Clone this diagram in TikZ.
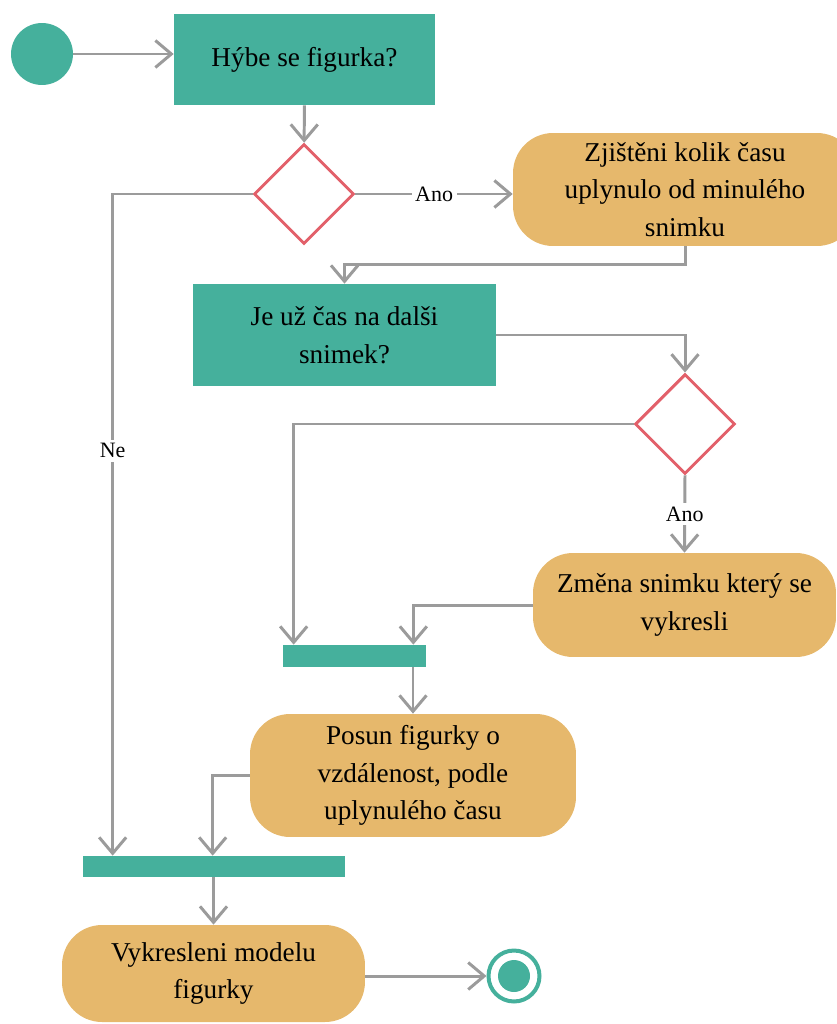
\documentclass[tikz,border=0pt]{standalone}
\usepackage{fontspec}
\setmainfont{Liberation Serif}
\newfontfamily\flowfont{Liberation Serif}
\usetikzlibrary{shapes.geometric,arrows.meta,calc}
\definecolor{fteal}{RGB}{69,176,156}
\definecolor{forange}{RGB}{230,184,108}
\definecolor{fred}{RGB}{226,96,106}
\definecolor{fgray}{RGB}{155,155,155}

\begin{document}
\begin{tikzpicture}[x=0.02cm,y=-0.02cm,
    font=\flowfont\fontsize{15.5}{21.5}\selectfont,
    flow/.style={draw=fgray, line width=1.7pt, -{Straight Barb[length=3.2mm,width=5.4mm]}},
    check/.style={rectangle, fill=fteal, inner sep=2pt, align=center},
    activity/.style={rectangle, rounded corners=0.8cm, fill=forange, align=center},
    decision/.style={diamond, draw=fred, line width=1.7pt, fill=white, inner sep=0pt, minimum width=2cm, minimum height=2cm},
    syncbar/.style={rectangle, fill=fteal, inner sep=0pt},
    guard/.style={fill=white, inner sep=2pt, font=\flowfont\fontsize{12.5}{15}\selectfont},
]
    \useasboundingbox (0,0) rectangle (836,1024);

    \node[circle, fill=fteal, minimum size=1.24cm, inner sep=0pt] (start) at (42,54) {};
    \node[check, minimum width=5.22cm, minimum height=1.82cm] (figurka) at (304.5,59.5) {Hýbe se figurka?};
    \node[decision] (moves) at (304,194) {};
    \node[activity, minimum width=6.88cm, minimum height=2.26cm] (elapsed) at (685,189.5) {Zjištěni kolik času\\uplynulo od minulého\\snimku};
    \node[check, minimum width=6.06cm, minimum height=2.04cm] (frametime) at (344.5,335) {Je už čas na dalši\\snimek?};
    \node[decision] (due) at (685,424) {};
    \node[activity, minimum width=6.06cm, minimum height=2.08cm] (swap) at (684.5,605) {Změna snimku který se\\vykresli};
    \node[syncbar, minimum width=2.86cm, minimum height=0.44cm] (joinA) at (354.5,656) {};
    \node[activity, minimum width=6.52cm, minimum height=2.46cm] (shift) at (413,775.5) {Posun figurky o\\vzdálenost, podle\\uplynulého času};
    \node[syncbar, minimum width=5.24cm, minimum height=0.42cm] (joinB) at (214,866.5) {};
    \node[activity, minimum width=6.06cm, minimum height=1.94cm] (render) at (213.5,973.5) {Vykresleni modelu\\figurky};
    \node[circle, draw=fteal, line width=0.8mm, minimum size=1.02cm, inner sep=0pt] (finish) at (514,976) {};
    \node[circle, fill=fteal, minimum size=0.64cm, inner sep=0pt] (finishDot) at (finish) {};

    % inputs of the two join bars
    \coordinate (joinAleft) at ($(joinA.north west)+(11,0)$);
    \coordinate (joinAright) at ($(joinA.north east)+(-13,0)$);
    \coordinate (joinBleft) at ($(joinB.north west)+(30,0)$);
    \coordinate (joinBright) at ($(joinB.north west)+(130,0)$);

    \draw[flow] (start) -- (start -| figurka.west);
    \draw[flow] (figurka) -- (moves);
    \draw[flow] (moves.east) -- node[guard]{Ano} (moves.east -| elapsed.west);
    \draw[flow] (moves.west) -| node[guard, pos=0.694]{Ne} (joinBleft);
    \draw[flow] (elapsed.south) -- ++(0,18) -| (frametime.north);
    \draw[flow] (frametime.east) -| (due.north);
    \draw[flow] (due.west) -| (joinAleft);
    \draw[flow] (due.south) -- node[guard]{Ano} (swap.north);
    \draw[flow] (swap.west) -| (joinAright);
    \draw[flow] (joinA.south -| shift.north) -- (shift.north);
    \draw[flow] (shift.west) -| (joinBright);
    \draw[flow] (joinB.south -| render.north) -- (render.north);
    \draw[flow] (finish.west -| render.east) -- (finish.west);
\end{tikzpicture}
\end{document}
